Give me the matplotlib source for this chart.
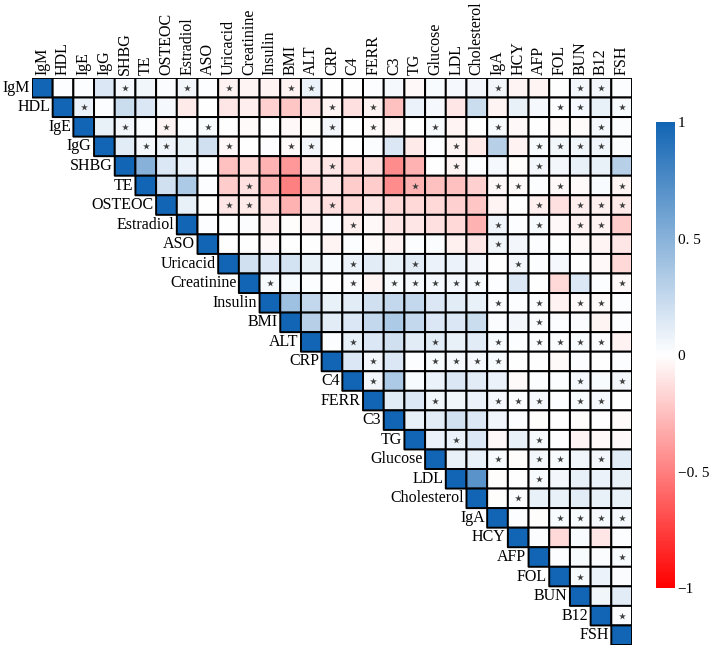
import numpy as np
import matplotlib
matplotlib.use("Agg")
import matplotlib.pyplot as plt
from matplotlib.colors import LinearSegmentedColormap

plt.rcParams['font.family'] = ['Liberation Serif', 'DejaVu Serif']

variables = ["IgM", "HDL", "IgE", "IgG", "SHBG", "TE", "OSTEOC", "Estradiol", "ASO",
             "Uricacid", "Creatinine", "Insulin", "BMI", "ALT", "CRP", "C4", "FERR", "C3",
             "TG", "Glucose", "LDL", "Cholesterol", "IgA", "HCY", "AFP", "FOL", "BUN",
             "B12", "FSH"]

# upper-triangle correlations, row i lists values for columns i+1 .. end
r_IgM = [0.01, 0.01, 0.15, 0.04, 0.06, 0.02, 0.05, 0.01, -0.05, -0.04, -0.05, -0.05, 0.08, 0.0,
         0.0, 0.01, 0.04, -0.03, 0.03, 0.04, 0.05, 0.05, -0.04, -0.04, 0.0, 0.05, 0.05, 0.01]
r_HDL = [0.08, 0.01, 0.22, 0.15, 0.04, -0.08, 0.0, -0.1, -0.07, -0.18, -0.22, -0.12, -0.04,
         -0.12, -0.05, -0.25, 0.08, 0.04, -0.1, 0.22, -0.04, 0.1, 0.04, 0.01, 0.04, 0.1, 0.03]
r_IgE = [0.1, 0.05, 0.02, -0.04, 0.01, 0.03, 0.0, -0.02, 0.0, -0.03, -0.01, 0.05, 0.0, -0.02,
         -0.04, 0.0, 0.03, -0.04, 0.0, 0.03, -0.03, 0.0, -0.02, -0.02, 0.04, 0.02]
r_IgG = [0.12, 0.04, 0.07, 0.1, 0.2, -0.03, 0.0, 0.01, -0.02, 0.05, 0.0, 0.0, 0.02, 0.15,
         -0.08, 0.01, -0.04, -0.08, 0.3, -0.05, 0.03, 0.06, 0.06, 0.07, 0.02]
r_SHBG = [0.5, 0.15, 0.08, 0.01, -0.25, -0.15, -0.3, -0.4, -0.1, -0.1, -0.15, -0.12, -0.45,
          -0.3, 0.0, -0.04, 0.01, 0.04, -0.01, 0.05, 0.05, 0.1, 0.1, 0.3]
r_TE = [0.2, 0.35, 0.01, -0.2, -0.12, -0.3, -0.5, -0.25, -0.1, -0.2, -0.2, -0.45, -0.3, -0.25,
        -0.25, -0.18, -0.03, -0.02, 0.01, -0.03, -0.02, 0.03, -0.04]
r_OSTEOC = [0.1, 0.0, -0.1, -0.08, -0.15, -0.3, -0.1, -0.12, -0.15, -0.1, -0.15, -0.15, -0.15,
            -0.18, -0.22, -0.04, 0.0, -0.06, -0.12, -0.07, -0.06, -0.08]
r_Estradiol = [0.01, 0.0, 0.02, -0.07, -0.01, -0.05, 0.01, -0.06, -0.03, -0.1, -0.1, -0.12,
               -0.15, -0.3, 0.07, 0.01, 0.03, -0.03, -0.05, -0.05, -0.2]
r_ASO = [0.0, 0.0, -0.03, 0.0, 0.0, -0.04, 0.01, -0.02, -0.05, 0.01, 0.02, -0.06, -0.1, 0.06,
         0.05, 0.01, 0.0, -0.03, -0.04, -0.1]
r_Uricacid = [0.2, 0.15, 0.18, 0.1, 0.03, 0.08, 0.12, 0.1, 0.12, 0.08, 0.08, 0.05, 0.0, 0.05,
              0.01, 0.04, 0.0, -0.03, -0.15]
r_Creatinine = [0.03, 0.03, 0.01, 0.0, 0.02, -0.04, 0.03, 0.04, 0.04, 0.04, 0.03, 0.01, 0.15,
                0.0, -0.15, 0.15, 0.01, -0.03]
r_Insulin = [0.4, 0.25, 0.1, 0.12, 0.2, 0.25, 0.25, 0.15, 0.12, 0.1, 0.02, 0.01, 0.02, -0.05,
             -0.02, -0.02, 0.01]
r_BMI = [0.3, 0.12, 0.15, 0.25, 0.35, 0.25, 0.15, 0.15, 0.22, 0.02, 0.05, 0.02, 0.01, 0.02,
         -0.04, 0.01]
r_ALT = [0.01, 0.1, 0.15, 0.2, 0.12, 0.12, 0.1, 0.12, 0.03, 0.01, 0.02, 0.02, 0.03, 0.02, -0.05]
r_CRP = [0.15, 0.05, 0.15, 0.01, 0.03, 0.04, 0.04, 0.03, 0.0, 0.0, -0.02, 0.01, 0.0, 0.01]
r_C4 = [0.05, 0.35, 0.03, 0.08, 0.15, 0.12, 0.08, -0.02, 0.01, 0.01, 0.04, 0.03, 0.05]
r_FERR = [0.12, 0.15, 0.06, 0.06, 0.08, 0.04, 0.02, 0.04, 0.01, 0.03, 0.04, 0.0]
r_C3 = [0.1, 0.12, 0.2, 0.15, 0.07, 0.01, -0.01, 0.0, -0.01, 0.0, -0.02]
r_TG = [0.08, 0.08, 0.15, -0.03, 0.1, 0.04, 0.0, -0.04, -0.03, -0.03]
r_Glucose = [0.1, 0.1, 0.03, -0.01, 0.05, 0.03, 0.07, 0.05, 0.12]
r_LDL = [0.7, -0.01, 0.0, 0.03, 0.05, 0.1, 0.08, 0.1]
r_Cholesterol = [-0.01, 0.02, 0.1, 0.1, 0.12, 0.1, 0.1]
r_IgA = [0.01, -0.01, 0.03, 0.03, 0.04, 0.04]
r_HCY = [0.02, -0.15, 0.03, -0.1, 0.01]
r_AFP = [0.01, 0.03, 0.02, 0.03]
r_FOL = [0.03, 0.08, 0.02]
r_BUN = [0.06, 0.12]
r_B12 = [0.02]

upper_rows = [r_IgM, r_HDL, r_IgE, r_IgG, r_SHBG, r_TE, r_OSTEOC, r_Estradiol, r_ASO,
              r_Uricacid, r_Creatinine, r_Insulin, r_BMI, r_ALT, r_CRP, r_C4, r_FERR, r_C3,
              r_TG, r_Glucose, r_LDL, r_Cholesterol, r_IgA, r_HCY, r_AFP, r_FOL, r_BUN,
              r_B12, []]

# significance markers: for each row, the column variables carrying a star
significant = {
    "IgM": ["SHBG", "Estradiol", "Uricacid", "BMI", "ALT", "IgA", "BUN", "B12"],
    "HDL": ["IgE", "CRP", "FERR", "FOL", "BUN", "FSH"],
    "IgE": ["SHBG", "OSTEOC", "ASO", "CRP", "FERR", "Glucose", "IgA", "B12"],
    "IgG": ["TE", "OSTEOC", "Uricacid", "BMI", "ALT", "LDL", "AFP", "FOL", "BUN", "B12"],
    "SHBG": ["CRP", "LDL", "AFP"],
    "TE": ["Creatinine", "TG", "IgA", "HCY", "FOL", "FSH"],
    "OSTEOC": ["Uricacid", "Creatinine", "CRP", "AFP", "BUN", "B12", "FSH"],
    "Estradiol": ["C4", "IgA", "AFP", "BUN", "B12"],
    "ASO": ["IgA"],
    "Uricacid": ["C4", "TG", "HCY"],
    "Creatinine": ["Insulin", "C4", "C3", "TG", "Glucose", "LDL", "Cholesterol", "FSH"],
    "Insulin": ["IgA", "AFP", "BUN", "B12"],
    "BMI": ["AFP"],
    "ALT": ["C4", "Glucose", "IgA", "AFP", "FOL", "BUN", "B12"],
    "CRP": ["FERR", "Glucose", "LDL", "Cholesterol", "IgA"],
    "C4": ["FERR", "BUN", "FSH"],
    "FERR": ["Glucose", "IgA", "HCY", "AFP", "BUN", "B12"],
    "TG": ["LDL", "AFP"],
    "Glucose": ["IgA", "AFP", "FOL", "B12"],
    "LDL": ["AFP"],
    "Cholesterol": ["HCY"],
    "IgA": ["FOL", "BUN", "B12", "FSH"],
    "AFP": ["FSH"],
    "FOL": ["BUN"],
    "B12": ["FSH"],
}

cbar_ticks = [-1, -0.5, 0, 0.5, 1]
cbar_labels = ["\u22121", "\u22120. 5", "0", "0. 5", "1"]

n = len(variables)
mat = np.full((n, n), np.nan)
for i in range(n):
    mat[i, i] = 1.0
    for k, v in enumerate(upper_rows[i]):
        mat[i, i + 1 + k] = v
masked = np.ma.masked_invalid(mat)

cmap = LinearSegmentedColormap.from_list("rwb", ["#ff0000", "#ffffff", "#1265b4"])

fig = plt.figure(figsize=(7.09, 6.47), dpi=100)
ax = fig.add_axes([0.0451, 0.0031, 0.8463, 0.8764])
mesh = ax.pcolor(masked, cmap=cmap, vmin=-1, vmax=1, edgecolors="black", linewidth=1.4)
ax.set_xlim(0, n)
ax.set_ylim(n, 0)
for s in ax.spines.values():
    s.set_visible(False)

ax.xaxis.tick_top()
ax.set_xticks(np.arange(n) + 0.5)
ax.set_xticklabels(variables, rotation=90, fontsize=11.5)
ax.tick_params(axis="x", length=0, pad=2)
ax.set_yticks([])

for i, name in enumerate(variables):
    ax.text(i - 0.12, i + 0.5, name, ha="right", va="center", fontsize=11.5)

idx = {v: k for k, v in enumerate(variables)}
sx, sy = [], []
for rname, cols in significant.items():
    for c in cols:
        sx.append(idx[c] + 0.5)
        sy.append(idx[rname] + 0.5)
ax.scatter(sx, sy, marker="*", s=27, color="#404040", linewidths=0, zorder=3)

cax = fig.add_axes([0.9252, 0.0912, 0.0268, 0.7202])
cb = fig.colorbar(mesh, cax=cax, ticks=cbar_ticks)
cb.outline.set_visible(False)
cb.set_ticklabels(cbar_labels)
cax.tick_params(length=0, pad=2, labelsize=11)

fig.savefig("out.png", dpi=100)
